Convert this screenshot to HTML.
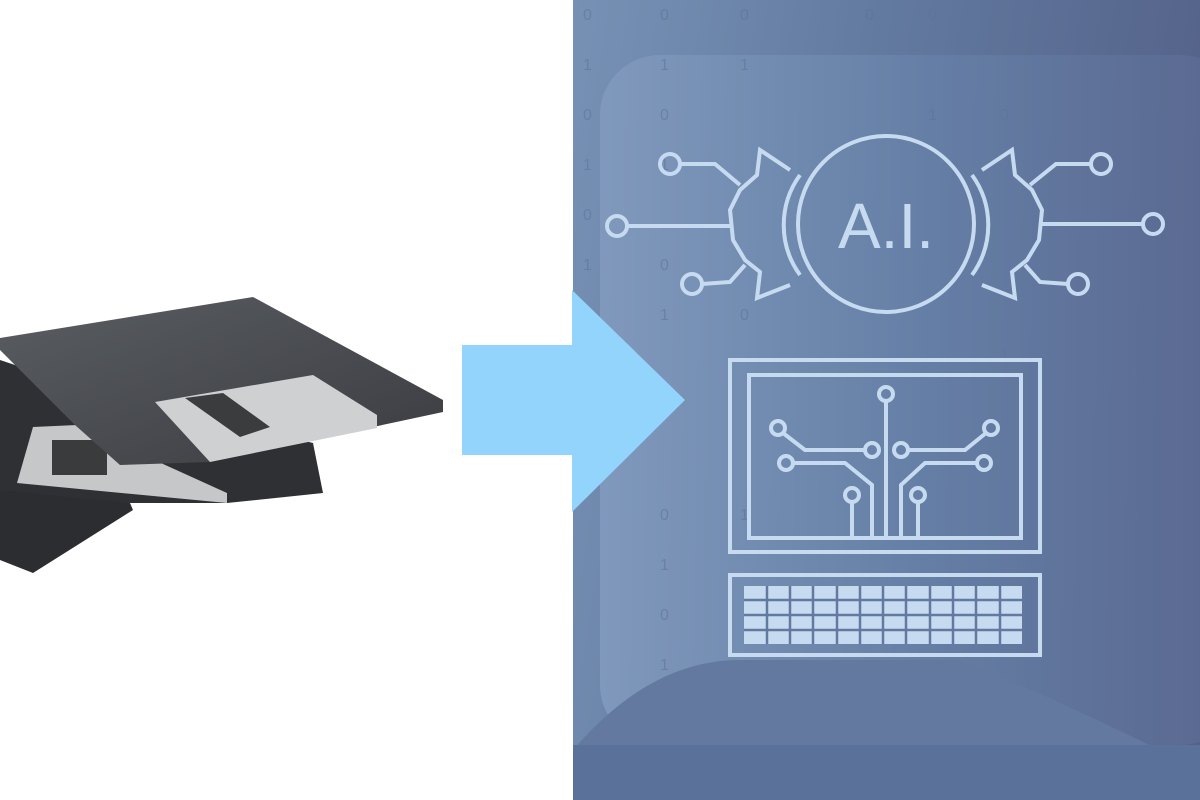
<!DOCTYPE html>
<html><head><style>html,body{margin:0;padding:0;background:#fff;width:1200px;height:800px;overflow:hidden}</style></head>
<body>
<svg width="1200" height="800" viewBox="0 0 1200 800" xmlns="http://www.w3.org/2000/svg" font-family="Liberation Sans, sans-serif">
<defs>
<linearGradient id="bg" x1="0" y1="0" x2="1" y2="0.2">
<stop offset="0" stop-color="#7791b5"/><stop offset="0.5" stop-color="#62799f"/><stop offset="1" stop-color="#55638a"/>
</linearGradient>
<linearGradient id="in" x1="0" y1="0" x2="1" y2="0">
<stop offset="0" stop-color="#819abd"/><stop offset="0.5" stop-color="#6680a7"/><stop offset="1" stop-color="#5a6890"/>
</linearGradient>
<linearGradient id="dk" x1="0" y1="0" x2="1" y2="1">
<stop offset="0" stop-color="#5a5d62"/><stop offset="1" stop-color="#3a3c40"/>
</linearGradient>
</defs>
<rect width="1200" height="800" fill="#fff"/>
<!-- floppies -->
<polygon points="0,470 130,503 133,510 33,573 0,560" fill="#2c2d30"/>
<polygon points="0,360 60,380 313,443 323,493 227,503 130,503 0,490" fill="#2e3033"/>
<polygon points="17,483 33,427 77,425 227,493 227,503" fill="#c6c7c9"/>
<rect x="52" y="440" width="55" height="35" fill="#3a3b3d"/>
<polygon points="0,338 253,297 443,400 443,412 210,462 120,465 75,425 0,350" fill="url(#dk)"/>
<polygon points="155,402 313,375 377,415 377,428 210,462" fill="#cfd0d2"/>
<polygon points="185,398 223,393 270,427 240,437" fill="#3b3c3e"/>
<!-- right panel -->
<rect x="573" y="0" width="627" height="800" fill="url(#bg)"/>
<rect x="600" y="55" width="640" height="690" rx="60" fill="url(#in)" opacity="0.9"/>
<path d="M573 750 Q650 660 740 660 L960 660 Q1060 700 1200 770 L1200 800 L573 800Z" fill="#6479a0"/>
<rect x="573" y="745" width="627" height="55" fill="#5a7299"/>
<g fill="#5d7398" font-size="16" opacity="0.55">
<text x="583" y="20">0</text><text x="583" y="70">1</text><text x="583" y="120">0</text><text x="583" y="170">1</text><text x="583" y="220">0</text><text x="583" y="270">1</text>
<text x="660" y="20">0</text><text x="660" y="70">1</text><text x="660" y="120">0</text><text x="660" y="170">1</text><text x="660" y="270">0</text><text x="660" y="320">1</text><text x="660" y="520">0</text><text x="660" y="570">1</text><text x="660" y="620">0</text><text x="660" y="670">1</text>
<text x="740" y="20">0</text><text x="740" y="70">1</text><text x="740" y="320">0</text><text x="740" y="520">1</text>
<text x="865" y="20">0</text><text x="928" y="20">0</text><text x="928" y="120">1</text><text x="1000" y="120">0</text><text x="1000" y="360">1</text><text x="1130" y="120">0</text><text x="1130" y="380">1</text><text x="1130" y="520">0</text>
</g>
<!-- arrow -->
<polygon points="462,345 572,345 572,290 685,400 572,512 572,455 462,455" fill="#92d4fc"/>
<!-- AI icon -->
<g stroke="#c7dbf0" stroke-width="4" fill="none">
<circle cx="886" cy="224" r="88"/>
<path d="M800 175 A85 85 0 0 0 800 275"/><path d="M972 175 A85 85 0 0 1 972 275"/>
<path d="M790 170 L760 150 L757 175 L740 190 L730 210 L733 240 L745 260 L760 272 L757 298 L790 285"/>
<path d="M982 170 L1012 150 L1015 175 L1032 190 L1042 210 L1039 240 L1027 260 L1012 272 L1015 298 L982 285"/>
<circle cx="670" cy="164" r="10"/><path d="M680 164 L715 164 L740 185"/>
<circle cx="617" cy="226" r="10"/><path d="M627 226 L733 226"/>
<circle cx="692" cy="284" r="10"/><path d="M702 284 L730 282 L745 265"/>
<circle cx="1101" cy="164" r="10"/><path d="M1091 164 L1056 164 L1030 185"/>
<circle cx="1153" cy="224" r="10"/><path d="M1143 224 L1040 224"/>
<circle cx="1078" cy="284" r="10"/><path d="M1068 284 L1040 282 L1025 265"/>
<rect x="730" y="360" width="310" height="192"/>
<rect x="749" y="375" width="272" height="163"/>
<circle cx="886" cy="394" r="7"/><path d="M886 401 L886 537"/>
<circle cx="778" cy="428" r="7"/><path d="M783 433 L805 450 L865 450"/><circle cx="872" cy="450" r="7"/>
<circle cx="786" cy="463" r="7"/><path d="M793 463 L845 463 L872 485 L872 537"/>
<circle cx="852" cy="495" r="7"/><path d="M852 502 L852 537"/>
<circle cx="991" cy="428" r="7"/><path d="M986 433 L965 450 L908 450"/><circle cx="901" cy="450" r="7"/>
<circle cx="984" cy="463" r="7"/><path d="M977 463 L925 463 L901 485 L901 537"/>
<circle cx="918" cy="495" r="7"/><path d="M918 502 L918 537"/>
<rect x="730" y="575" width="310" height="80"/>
</g>
<g fill="#c7dbf0">
<rect x="744" y="586" width="278" height="58"/>
</g>
<g stroke="#6279a0" stroke-width="2.5">
<path d="M744 600 H1022 M744 615 H1022 M744 630 H1022"/>
<path d="M767 586 V644 M790 586 V644 M813 586 V644 M837 586 V644 M860 586 V644 M883 586 V644 M906 586 V644 M930 586 V644 M953 586 V644 M976 586 V644 M1000 586 V644"/>
</g>
<text x="886" y="248" text-anchor="middle" font-size="64" fill="#c7dbf0">A.I.</text>
</svg>
</body></html>
